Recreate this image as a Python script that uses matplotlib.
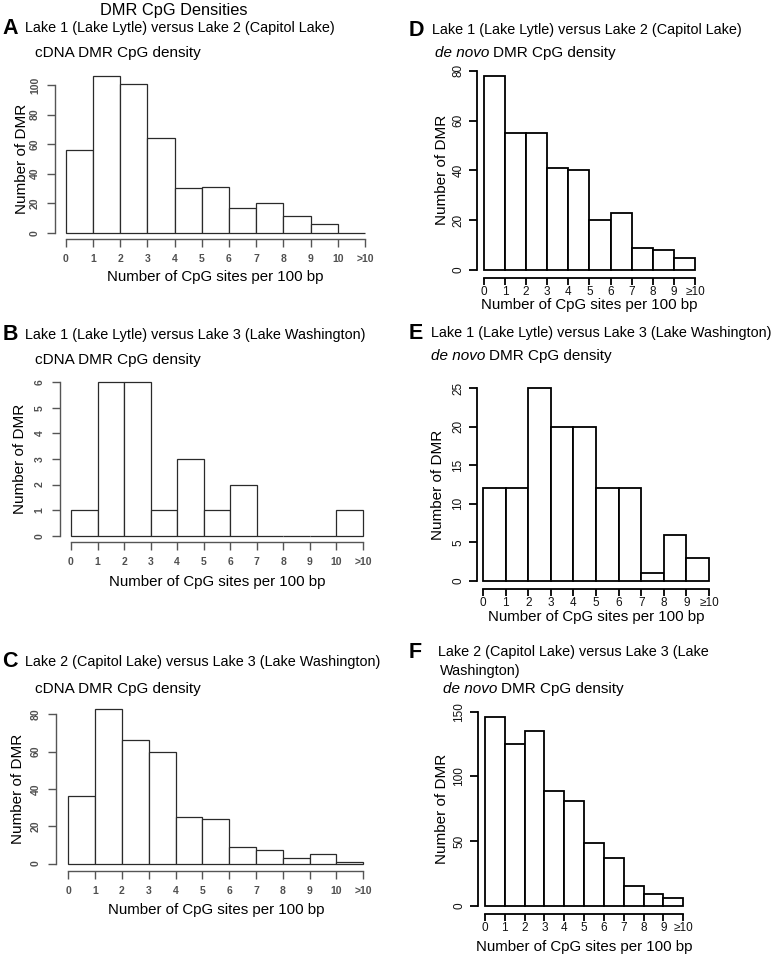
import matplotlib
matplotlib.use("Agg")
import matplotlib.pyplot as plt
import numpy as np

plt.rcParams['font.family'] = ['Liberation Sans', 'DejaVu Sans']

# ---------------- data ----------------
abc_xticklabels = ['0', '1', '2', '3', '4', '5', '6', '7', '8', '9', '10', '>10']
def_xticklabels = ['0', '1', '2', '3', '4', '5', '6', '7', '8', '9', '\u226510']

A_counts = [56, 106, 101, 64, 30, 31, 17, 20, 11, 6, 0]
B_counts = [1, 6, 6, 1, 3, 1, 2, 0, 0, 0, 1]
C_counts = [36, 83, 66, 60, 25, 24, 9, 7, 3, 5, 1]
D_counts = [78, 55, 55, 41, 40, 20, 23, 9, 8, 5]
E_counts = [12, 12, 25, 20, 20, 12, 12, 1, 6, 3]
F_counts = [146, 125, 135, 89, 81, 48, 37, 15, 9, 6]

A_yticks = [0, 20, 40, 60, 80, 100]
B_yticks = [0, 1, 2, 3, 4, 5, 6]
C_yticks = [0, 20, 40, 60, 80]
D_yticks = [0, 20, 40, 60, 80]
E_yticks = [0, 5, 10, 15, 20, 25]
F_yticks = [0, 50, 100, 150]

suptitle = "DMR CpG Densities"
A_title = "Lake 1 (Lake Lytle) versus Lake 2 (Capitol Lake)"
B_title = "Lake 1 (Lake Lytle) versus Lake 3 (Lake Washington)"
C_title = "Lake 2 (Capitol Lake) versus Lake 3 (Lake Washington)"
D_title = "Lake 1 (Lake Lytle) versus Lake 2 (Capitol Lake)"
E_title = "Lake 1 (Lake Lytle) versus Lake 3 (Lake Washington)"
F_title1 = "Lake 2 (Capitol Lake) versus Lake 3 (Lake"
F_title2 = "Washington)"
xlab = "Number of CpG sites per 100 bp"
ylab = "Number of DMR"

# ---------------- layout ----------------
W, H = 777, 958
fig = plt.figure(figsize=(W / 100, H / 100), dpi=100)
fig.patch.set_facecolor('white')

TITLE_FS = 10.4
SUB_FS = 11
LETTER_FS = 15.5


def ptext(x, y, s, **kw):
    kw.setdefault('va', 'center')
    return fig.text(x / W, 1 - y / H, s, **kw)


def panel(counts, xticklabels, yticks, left, right, y0, ytop,
          yoff, xoff, ylab_x, xlab_y, style):
    ax = fig.add_axes([left / W, 1 - y0 / H, (right - left) / W, (y0 - ytop) / H])
    n = len(xticklabels) - 1
    edges = np.arange(len(counts))
    if style == 'r':
        ec, lw_bar, axc, lw_ax, tcol, tsize, tweight = '#2a2a2a', 0.9, '#555555', 1.0, '#505050', 7.5, 'bold'
    else:
        ec, lw_bar, axc, lw_ax, tcol, tsize, tweight = '#000000', 1.3, '#000000', 1.3, '#111111', 8.5, 'normal'
    ax.bar(edges, counts, width=1.0, align='edge', facecolor='white',
           edgecolor=ec, linewidth=lw_bar, clip_on=False)
    ax.set_xlim(0, len(counts))
    ax.set_ylim(0, yticks[-1])
    for s in ['top', 'right']:
        ax.spines[s].set_visible(False)
    ax.spines['left'].set_position(('outward', yoff * 0.72))
    ax.spines['bottom'].set_position(('outward', xoff * 0.72))
    ax.spines['left'].set_bounds(yticks[0], yticks[-1])
    ax.spines['bottom'].set_bounds(0, n)
    for s in ['left', 'bottom']:
        ax.spines[s].set_color(axc)
        ax.spines[s].set_linewidth(lw_ax)
    ax.set_xticks(np.arange(n + 1))
    ax.set_xticklabels(xticklabels)
    ax.set_yticks(yticks)
    ax.set_yticklabels([str(v) for v in yticks])
    if style == 'r':
        ax.tick_params(axis='x', length=6, width=lw_ax, color=axc, pad=4.5,
                       labelsize=tsize, labelcolor=tcol)
        ax.tick_params(axis='y', length=6, width=lw_ax, color=axc, pad=5,
                       labelsize=tsize, labelcolor=tcol, labelrotation=90)
    else:
        ax.tick_params(axis='x', length=5, width=lw_ax, color=axc, pad=0.5,
                       labelsize=tsize, labelcolor=tcol)
        ax.tick_params(axis='y', length=6, width=lw_ax, color=axc, pad=3,
                       labelsize=tsize, labelcolor=tcol, labelrotation=90)
    for lab in ax.get_xticklabels() + ax.get_yticklabels():
        lab.set_fontweight(tweight)
    for lab in ax.get_yticklabels():
        lab.set_va('center')
    ax.set_xlabel(xlab, fontsize=10.8, va='center')
    ax.set_ylabel(ylab, fontsize=11, va='center')
    ax.xaxis.set_label_coords(0.5, (y0 - xlab_y) / (y0 - ytop))
    ax.yaxis.set_label_coords((ylab_x - left) / (right - left), 0.5)
    return ax


# panel A
panel(A_counts, abc_xticklabels, A_yticks, 65.7, 365.0, 232.7, 85.0,
      10.5, 6.5, 22, 277, 'r')
# panel B
panel(B_counts, abc_xticklabels, B_yticks, 71.0, 363.0, 535.7, 382.3,
      11, 6.6, 20, 581.7, 'r')
# panel C
panel(C_counts, abc_xticklabels, C_yticks, 68.3, 363.3, 863.5, 714.3,
      12, 7.5, 18, 910, 'r')
# panel D
panel(D_counts, def_xticklabels, D_yticks, 483.8, 695.0, 270.0, 70.7,
      7, 8, 441.7, 305, 'n')
# panel E
panel(E_counts, def_xticklabels, E_yticks, 483.0, 709.0, 580.8, 388.3,
      6.5, 8.5, 438.3, 616.5, 'n')
# panel F
panel(F_counts, def_xticklabels, F_yticks, 485.0, 683.3, 905.5, 711.7,
      7.5, 8.5, 441.7, 947.5, 'n')

# titles
ptext(174, 10, suptitle, fontsize=11.8, ha='center')

ptext(2.5, 28, "A", fontsize=LETTER_FS, fontweight='bold')
ptext(25, 28, A_title, fontsize=TITLE_FS)
ptext(35, 53.3, "cDNA DMR CpG density", fontsize=SUB_FS)

ptext(2.5, 335, "B", fontsize=LETTER_FS, fontweight='bold')
ptext(25, 335, B_title, fontsize=TITLE_FS)
ptext(35, 360, "cDNA DMR CpG density", fontsize=SUB_FS)

ptext(2.5, 661.7, "C", fontsize=LETTER_FS, fontweight='bold')
ptext(25, 661.7, C_title, fontsize=TITLE_FS)
ptext(35, 689.3, "cDNA DMR CpG density", fontsize=SUB_FS)


def denovo(x, y):
    t = ptext(x, y, "de novo", fontsize=SUB_FS, style='italic')
    r = fig.canvas.get_renderer()
    bb = t.get_window_extent(renderer=r)
    ptext(x + bb.width + 3.5, y, "DMR CpG density", fontsize=SUB_FS)


ptext(409, 30, "D", fontsize=LETTER_FS, fontweight='bold')
ptext(431.7, 30, D_title, fontsize=TITLE_FS)
denovo(435, 53.3)

ptext(409, 333.3, "E", fontsize=LETTER_FS, fontweight='bold')
ptext(430.7, 333.3, E_title, fontsize=TITLE_FS)
denovo(430.7, 355.7)

ptext(409, 652.3, "F", fontsize=LETTER_FS, fontweight='bold')
ptext(438.3, 652.3, F_title1, fontsize=TITLE_FS)
ptext(440, 670.7, F_title2, fontsize=TITLE_FS)
denovo(443.3, 689.3)

fig.savefig("out.png", dpi=100, facecolor='white')
